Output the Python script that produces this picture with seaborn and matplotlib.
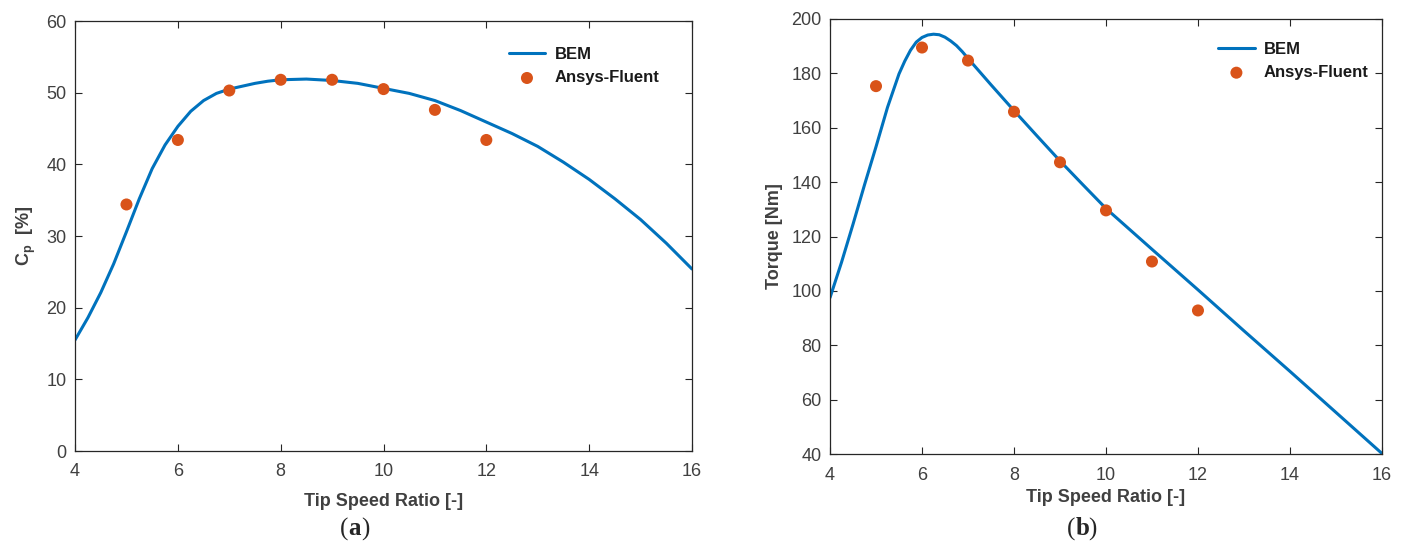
import matplotlib
matplotlib.use("Agg")
import matplotlib.pyplot as plt
import seaborn as sns
import pandas as pd

# BEM model curves (tip speed ratio vs. value)
tsr_bem_cp = [4.0, 4.25, 4.5, 4.75, 5.0, 5.25, 5.5, 5.75, 6.0, 6.25, 6.5, 6.75,
              7.0, 7.25, 7.5, 7.75, 8.0, 8.5, 9.0, 9.5, 10.0, 10.5, 11.0, 11.5,
              12.0, 12.5, 13.0, 13.5, 14.0, 14.5, 15.0, 15.5, 16.0]
cp_bem = [15.5, 18.6, 22.1, 26.1, 30.6, 35.2, 39.4, 42.7, 45.3, 47.4, 48.9, 49.9,
          50.5, 50.9, 51.3, 51.6, 51.8, 51.9, 51.7, 51.3, 50.6, 49.9, 48.9, 47.5,
          45.9, 44.3, 42.5, 40.3, 37.9, 35.2, 32.3, 29.0, 25.4]

tsr_bem_tq = [4.0, 4.25, 4.5, 4.75, 5.0, 5.25, 5.5, 5.625, 5.75, 5.875, 6.0,
              6.125, 6.25, 6.375, 6.5, 6.625, 6.75, 6.875, 7.0, 7.5, 8.0, 8.5,
              9.0, 9.5, 10.0, 11.0, 12.0, 13.0, 14.0, 15.0, 16.0]
torque_bem = [97.5, 110.5, 124.5, 139.0, 153.0, 167.5, 179.8, 184.5, 188.5, 191.5,
              193.2, 194.1, 194.4, 194.2, 193.3, 191.9, 190.2, 188.0, 185.5, 175.8,
              166.3, 157.0, 147.8, 139.0, 130.3, 115.3, 100.4, 85.3, 70.4, 55.3,
              40.2]

# CFD results (Ansys-Fluent)
tsr_cfd = [5, 6, 7, 8, 9, 10, 11, 12]
cp_cfd = [34.4, 43.4, 50.3, 51.8, 51.8, 50.5, 47.6, 43.4]
torque_cfd = [175.3, 189.5, 184.7, 165.9, 147.3, 129.6, 110.8, 92.8]

x_ticks = [4, 6, 8, 10, 12, 14, 16]
cp_ticks = [0, 10, 20, 30, 40, 50, 60]
torque_ticks = [40, 60, 80, 100, 120, 140, 160, 180, 200]

BLUE = "#0072BD"
ORANGE = "#D95319"
AX_COLOR = "#262626"
TICK_COLOR = "#404040"

sns.set_style("ticks")
plt.rcParams["font.family"] = ["Liberation Sans", "DejaVu Sans"]
plt.rcParams["mathtext.fontset"] = "custom"
plt.rcParams["mathtext.rm"] = "Liberation Sans"
plt.rcParams["mathtext.bf"] = "Liberation Sans:bold"

fig = plt.figure(figsize=(14.03, 5.5), dpi=100)
ax1 = fig.add_axes([0.0535, 0.180, 0.4397, 0.7818])
ax2 = fig.add_axes([0.5916, 0.1745, 0.3934, 0.7910])

bem_cp = pd.DataFrame({"tsr": tsr_bem_cp, "val": cp_bem})
cfd_cp = pd.DataFrame({"tsr": tsr_cfd, "val": cp_cfd})
bem_tq = pd.DataFrame({"tsr": tsr_bem_tq, "val": torque_bem})
cfd_tq = pd.DataFrame({"tsr": tsr_cfd, "val": torque_cfd})


def draw(ax, bem, cfd, ylim, yticks, ylabel, legend_anchor, xlabelpad,
         panel, panel_x):
    sns.lineplot(data=bem, x="tsr", y="val", ax=ax, color=BLUE, linewidth=2.2,
                 label="BEM", sort=False)
    sns.scatterplot(data=cfd, x="tsr", y="val", ax=ax, color=ORANGE, s=75,
                    edgecolor="none", label="Ansys-Fluent", zorder=3)
    ax.lines[0].set_solid_joinstyle("round")
    ax.lines[0].set_solid_capstyle("round")
    ax.set_xlim(4, 16)
    ax.set_ylim(*ylim)
    ax.set_xticks(x_ticks)
    ax.set_yticks(yticks)
    ax.tick_params(direction="in", length=5, width=0.8, colors=AX_COLOR,
                   labelcolor=TICK_COLOR, labelsize=13, top=True, right=True,
                   pad=6)
    ax.tick_params(axis="x", pad=9)
    for sp in ax.spines.values():
        sp.set_visible(True)
        sp.set_color(AX_COLOR)
        sp.set_linewidth(0.9)
    ax.set_xlabel("Tip Speed Ratio [-]", fontsize=13, fontweight="bold",
                  color=TICK_COLOR, labelpad=xlabelpad)
    ax.set_ylabel(ylabel, fontsize=13, fontweight="bold", color=TICK_COLOR,
                  labelpad=6)
    leg = ax.legend(loc="upper left", bbox_to_anchor=legend_anchor, frameon=False,
                    fontsize=12, handlelength=2.2, handletextpad=0.55,
                    labelspacing=0.5, borderaxespad=0)
    for t in leg.get_texts():
        t.set_fontweight("bold")
        t.set_color("#1a1a1a")
    fig.text(panel_x, 0.027, "(", fontsize=18, family="Liberation Serif",
             ha="right", va="baseline")
    fig.text(panel_x, 0.027, panel, fontsize=18, family="Liberation Serif",
             fontweight="bold", ha="left", va="baseline")
    fig.text(panel_x + 0.0092, 0.027, ")", fontsize=18,
             family="Liberation Serif", ha="left", va="baseline")


draw(ax1, bem_cp, cfd_cp, (0, 60), cp_ticks, r"$\mathbf{C_p}$  [%]",
     (0.692, 0.955), 9, "a", 0.2485)
draw(ax2, bem_tq, cfd_tq, (40, 200), torque_ticks, "Torque [Nm]",
     (0.691, 0.963), 4, "b", 0.7665)

fig.savefig("out.png", dpi=100, facecolor="white")
